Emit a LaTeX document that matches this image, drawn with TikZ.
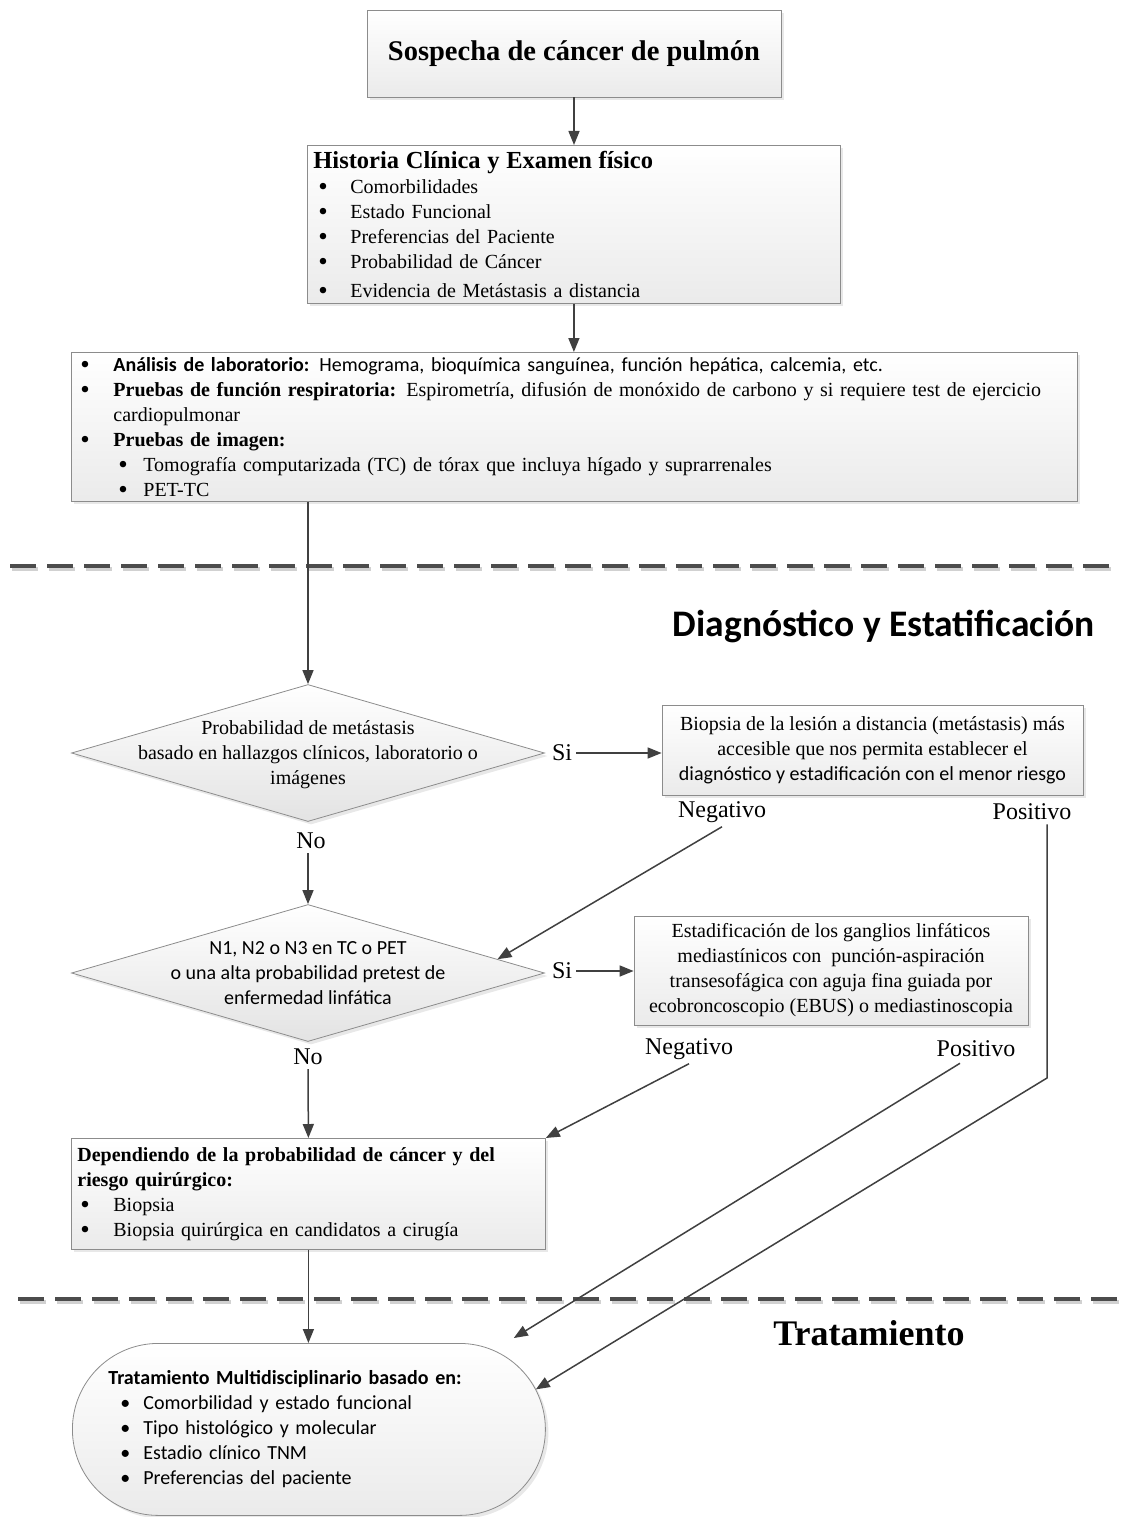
\documentclass[tikz,border=0pt]{standalone}
\usepackage{fontspec}
\setmainfont{Liberation Serif}
\newfontfamily\calibri{Carlito}
\usetikzlibrary{shapes.geometric,arrows.meta,shadows,calc}

\newcommand{\bul}[2]{\hspace*{#1pt}\makebox[#2pt][l]{\smash{\raisebox{-2.2pt}{\scalebox{1.35}{\textbullet}}}}}
\newcommand{\bulc}[2]{\hspace*{#1pt}\makebox[#2pt][l]{\textbullet}}
\newcommand{\centro}[1]{\raisebox{-7pt}{\makebox[0pt]{\begin{tabular}{@{}c@{}}#1\end{tabular}}}}

\begin{document}
\begin{tikzpicture}[x=1pt, y=-1pt,
  every node/.style={inner sep=0pt, font=\fontsize{20}{25}\selectfont},
  caja/.style={draw=black!45, line width=0.8pt, top color=white, bottom color=black!8,
    drop shadow={shadow xshift=3pt, shadow yshift=-3pt, fill=black!18}},
  decision/.style={caja, diamond, bottom color=black!11, minimum width=473pt, minimum height=137pt, text height=0pt, text depth=0pt},
  etiqueta/.style={inner sep=4pt, font=\fontsize{24}{28}\selectfont},
  flecha/.style={draw=black!75, line width=1.5pt, -{Triangle[length=14pt,width=11pt]}},
  corte/.style={line width=4pt, dash pattern=on 26pt off 11pt}
]
  \useasboundingbox (0,0) rectangle (1120,1517);

  % Separators
  \coordinate (corteA1) at (10,566);
  \coordinate (corteA2) at (1120,566);
  \coordinate (corteB1) at (18,1299);
  \coordinate (corteB2) at (1120,1299);
  \draw[corte, black!18] ($(corteA1)+(2,3)$) -- ($(corteA2)+(2,3)$);
  \draw[corte, black!70] (corteA1) -- (corteA2);
  \draw[corte, black!18] ($(corteB1)+(2,3)$) -- ($(corteB2)+(2,3)$);
  \draw[corte, black!70] (corteB1) -- (corteB2);

  % Nodes
  \node[caja, minimum width=414pt, minimum height=87pt, font=\bfseries\fontsize{28.5}{32}\selectfont] (sospecha) at (574,53.5) {Sospecha de cáncer de pulmón};

  \node[caja, anchor=north west, minimum height=158pt, text width=521pt, inner xsep=6pt, align=left] (historia) at (307,145)
    {{\bfseries\fontsize{24.5}{25}\selectfont Historia Clínica y Examen físico}\\
     \bul{5}{32}Comorbilidades\\
     \bul{5}{32}Estado Funcional\\
     \bul{5}{32}Preferencias del Paciente\\
     \bul{5}{32}Probabilidad de Cáncer\\[4pt]
     \bul{5}{32}Evidencia de Metástasis a distancia};

  \node[caja, anchor=north west, minimum height=149pt, text width=988pt, inner xsep=9pt, align=left] (pruebas) at (71,352)
    {\bul{0}{33}{\calibri\textbf{Análisis de laboratorio:} Hemograma, bioquímica sanguínea, función hepática, calcemia, etc.}\\
     \bul{0}{33}\textbf{Pruebas de función respiratoria:} Espirometría, difusión de monóxido de carbono y si requiere test de ejercicio\\
     \hspace*{33pt}cardiopulmonar\\
     \bul{0}{33}\textbf{Pruebas de imagen:}\\
     \bul{38}{25}Tomografía computarizada (TC) de tórax que incluya hígado y suprarrenales\\
     \bul{38}{25}PET-TC};

  \node[font=\calibri\bfseries\fontsize{37.5}{40}\selectfont, anchor=east] (diag) at (1095,626) {Diagnóstico y Estatificación};

  \node[decision] (metas) at (308,753)
    {\centro{Probabilidad de metástasis\\ basado en hallazgos clínicos, laboratorio o\\ imágenes}};
  \node[etiqueta] (siA) at (562,753) {Si};
  \node[caja, minimum width=421pt, minimum height=90pt, align=center] (biopsia) at (872.5,750)
    {Biopsia de la lesión a distancia (metástasis) más\\ accesible que nos permita establecer el\\ {\calibri diagnóstico y estadificación con el menor riesgo}};
  \node[etiqueta] (negA) at (722,812) {Negativo};
  \node[etiqueta] (posA) at (1032,812) {Positivo};
  \node[etiqueta] (noA) at (311,841) {No};

  \node[decision, font=\calibri\fontsize{20}{25}\selectfont] (linfa) at (308,973)
    {\centro{N1, N2 o N3 en TC o PET\\ o una alta probabilidad pretest de\\ enfermedad linfática}};
  \node[etiqueta] (siB) at (562,971) {Si};
  \node[caja, minimum width=394pt, minimum height=109pt, align=center] (estadif) at (831,970.5)
    {Estadificación de los ganglios linfáticos\\ mediastínicos con \ punción-aspiración\\ transesofágica con aguja fina guiada por\\ ecobroncoscopio (EBUS) o mediastinoscopia};
  \node[etiqueta] (negB) at (689,1049) {Negativo};
  \node[etiqueta] (posB) at (976,1049) {Positivo};
  \node[etiqueta] (noB) at (308,1057) {No};

  \node[caja, anchor=north west, minimum height=111pt, text width=462pt, inner xsep=6pt, align=left] (dep) at (71,1138)
    {\textbf{Dependiendo de la probabilidad de cáncer y del}\\
     \textbf{riesgo quirúrgico:}\\
     \bul{3}{33}Biopsia\\
     \bul{3}{33}Biopsia quirúrgica en candidatos a cirugía};

  \node[font=\bfseries\fontsize{36}{40}\selectfont] (tratam) at (869,1333) {Tratamiento};

  \node[caja, rounded corners=86pt, anchor=north west, minimum height=172pt, text width=401pt, inner xsep=36pt, align=left,
        font=\calibri\fontsize{20}{25}\selectfont] (trat) at (72,1343)
    {\textbf{Tratamiento Multidisciplinario basado en:}\\
     \bulc{12}{23}Comorbilidad y estado funcional\\
     \bulc{12}{23}Tipo histológico y molecular\\
     \bulc{12}{23}Estadio clínico TNM\\
     \bulc{12}{23}Preferencias del paciente};

  \coordinate (codoA) at (1047,1078);

  % Edges
  \draw[flecha] (sospecha.south) -- (sospecha.south |- historia.north);
  \draw[flecha] (historia.south) -- (historia.south |- pruebas.north);
  \draw[flecha] (metas.north |- pruebas.south) -- (metas.north);
  \draw[flecha] (siA.east) -- (siA.east -| biopsia.west);
  \draw[flecha] (noA.south -| metas.south) -- (linfa.north);
  \draw[flecha] (negA.south) -- ($(linfa.north)!0.8!(linfa.east)$);
  \draw[flecha] (codoA |- posA.south) -- (codoA) -- ($(trat.east)+(-10,-40)$);
  \draw[flecha] (siB.east) -- (siB.east -| estadif.west);
  \draw[flecha] (noB.south -| linfa.south) -- (dep.north);
  \draw[flecha] (negB.south) -- (dep.north east);
  \draw[flecha] ($(posB.south)+(-16,2)$) -- ($(trat.north east)+(-32,-5)$);
  \draw[flecha] (dep.south) -- (dep.south |- trat.north);
\end{tikzpicture}
\end{document}
